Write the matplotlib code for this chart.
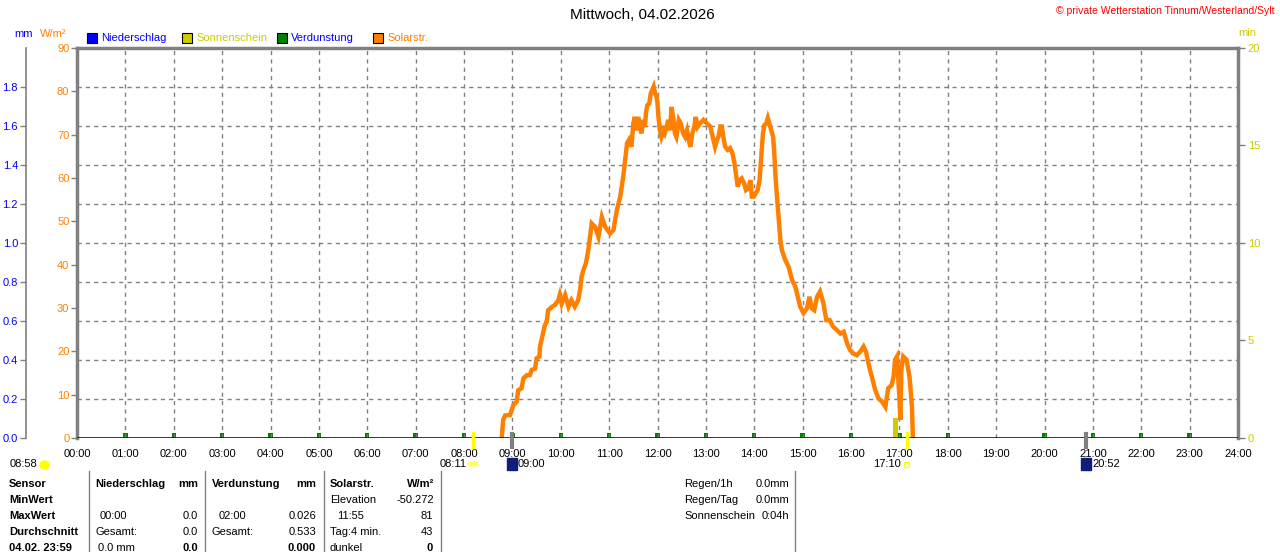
import matplotlib
matplotlib.use("Agg")
import matplotlib.pyplot as plt
from matplotlib.patches import Rectangle, Ellipse, Circle

plt.rcParams['font.family'] = ['Liberation Sans', 'DejaVu Sans']

# ---------------- data ----------------
solar_time = [8.78, 8.81, 8.85, 8.95, 9.02, 9.09, 9.12, 9.19, 9.23, 9.30, 9.36, 9.40, 9.47, 9.50,
              9.56, 9.57, 9.61, 9.67, 9.71, 9.74, 9.81, 9.88, 9.95, 9.98, 10.02, 10.09, 10.16,
              10.22, 10.29, 10.36, 10.40, 10.43, 10.47, 10.52, 10.57, 10.64, 10.71, 10.78, 10.85,
              10.92, 11.02, 11.09, 11.16, 11.23, 11.30,
              11.34, 11.37, 11.41, 11.46, 11.50, 11.53, 11.57, 11.60, 11.63, 11.67, 11.70, 11.74,
              11.76, 11.79, 11.83, 11.86, 11.89, 11.92, 11.95, 11.98, 12.00, 12.02, 12.05, 12.08,
              12.12, 12.15, 12.19, 12.22, 12.26, 12.29, 12.33, 12.36, 12.39, 12.44, 12.48, 12.53,
              12.57, 12.61, 12.66, 12.68, 12.72, 12.76, 12.79, 12.83,
              12.88, 12.95, 13.02, 13.09, 13.14, 13.19, 13.23, 13.26, 13.30, 13.33, 13.37, 13.40,
              13.45, 13.50, 13.55, 13.59, 13.63, 13.66, 13.70, 13.74, 13.79, 13.83, 13.88, 13.92,
              13.95, 13.99, 14.03, 14.07, 14.11, 14.14, 14.18, 14.21, 14.25, 14.28, 14.32, 14.35,
              14.39, 14.41, 14.44, 14.47,
              14.50, 14.54, 14.57, 14.64, 14.71, 14.78,
              14.85, 14.90, 14.95, 15.02, 15.09, 15.14, 15.19, 15.24, 15.30, 15.36, 15.43, 15.49,
              15.56, 15.63, 15.71, 15.78, 15.85, 15.92, 15.98, 16.05, 16.12, 16.19, 16.26, 16.31,
              16.36, 16.43, 16.50, 16.57, 16.64, 16.71, 16.77, 16.84, 16.88, 16.91, 16.95, 16.97,
              17.00, 17.02, 17.04, 17.08, 17.15, 17.21, 17.26, 17.28]
solar_wm2 = [0, 4.2, 5.2, 5.3, 7.6, 8.4, 11, 11.5, 13.8, 14.5, 14.5, 15.7, 16, 18.4,
             18.8, 21, 23, 26, 26.8, 29.5, 30.2, 30.7, 31.8, 33, 31, 33, 30.3,
             31.8, 30.3, 31.8, 34.2, 37.2, 38.8, 40.3, 43.4, 49.5, 48.7, 46.4, 51,
             48.7, 47.2, 48, 52.6, 55.7, 61,
             64.9, 68, 68.8, 67.2, 72.6, 74.1, 71, 74.1, 71.8, 70.3, 73.4, 71.8,
             74.9, 76.8, 77.2, 79.5, 80.3, 81.1, 79.5, 78.8, 77.2, 74.1, 71, 69.5,
             71, 70.3, 71.8, 73.4, 71, 76.4, 73.4, 70.3, 69.5, 73.4, 72.6, 70.3,
             69.5, 71, 68, 67.2, 70.3, 71.8, 74.1, 71.8,
             72.6, 73.4, 72.6, 71.9, 69.5, 67.2, 68.8, 69.5, 71.9, 71.9, 68.8, 67.2,
             66.5, 66.9, 65.7, 63.4, 60.3, 58, 59.5, 59.9, 58.8, 57.2, 57.6, 59.5,
             55.7, 55.7, 56.5, 57.2, 59.5, 64.2, 70.3, 72.2, 72.6, 73.8, 72.2, 71.1,
             69.5, 66.5, 60.3, 55.7,
             51.5, 45.7, 43.4, 41.1, 39.5, 36.5,
             34.9, 32.6, 30.3, 28.8, 29.9, 32.6, 29.9, 29.5, 32.6, 33.8, 31.1, 27.2,
             27.2, 25.7, 24.9, 24.1, 24.5, 21.8, 20.3, 19.5, 19.1, 19.9, 21.1, 19.9,
             17.2, 14.1, 11.1, 9.1, 8.4, 7.2, 11.5, 12.2, 14.1, 18, 18.8, 14.9,
             9.5, 4.2, 15.7, 18.8, 18, 14.1, 7.2, 0]

evap_hours = [1, 2, 3, 4, 5, 6, 7, 8, 9, 10, 11, 12, 13, 14, 15, 16, 17, 18, 20, 21, 22, 23]
evap_mm = [0.024, 0.026, 0.024, 0.024, 0.024, 0.024, 0.024, 0.024, 0.024, 0.024, 0.024,
           0.024, 0.024, 0.024, 0.024, 0.024, 0.024, 0.024, 0.024, 0.024, 0.024, 0.024]

sun_time = [16.915]
sun_min = [1.05]

hour_labels = ['%02d:00' % h for h in range(25)]
wm2_ticks = list(range(0, 91, 10))
mm_ticks = [0.0, 0.2, 0.4, 0.6, 0.8, 1.0, 1.2, 1.4, 1.6, 1.8]
min_ticks = [0, 5, 10, 15, 20]

sunrise, sunset = 8 + 11 / 60, 17 + 10 / 60
moonset, moonrise = 9.0, 20 + 52 / 60

# ---------------- figure ----------------
W, H = 1280, 552
fig = plt.figure(figsize=(12.8, 5.52), dpi=100)
fig.patch.set_facecolor('white')

def P(x, y):
    return (x / W, 1 - y / H)

L, R, T, B = 77, 1238, 48, 438
rect = [L / W, (H - B) / H, (R - L) / W, (B - T) / H]

ax_mm = fig.add_axes(rect)
ax_mm.set_xlim(0, 24)
ax_mm.set_ylim(0, 2.0)
ax_min = ax_mm.twinx()
ax_min.set_ylim(0, 20)
ax_w = ax_mm.twinx()
ax_w.set_ylim(0, 90)
for a, z in ((ax_mm, 1), (ax_min, 2), (ax_w, 3)):
    a.set_zorder(z)
ax_min.patch.set_visible(False)
ax_w.patch.set_visible(False)

GRAY = '#808080'
ORANGE = '#ff8000'
BLUE = '#0000ff'
YEL = '#cccc00'

# mm axis (outer left)
for s in ['top', 'right', 'bottom']:
    ax_mm.spines[s].set_visible(False)
ax_mm.spines['left'].set_position(('outward', 37))
ax_mm.spines['left'].set_color(GRAY)
ax_mm.spines['left'].set_linewidth(1.2)
ax_mm.set_yticks(mm_ticks)
ax_mm.set_yticklabels(['%.1f' % v for v in mm_ticks])
ax_mm.tick_params(axis='y', colors=GRAY, labelcolor=BLUE, labelsize=8, length=4, width=1, pad=1.5)
ax_mm.set_xticks(range(25))
ax_mm.set_xticklabels(hour_labels)
ax_mm.tick_params(axis='x', length=0, labelsize=8, pad=8, labelcolor='black')

# min axis (right)
for s in ['top', 'left', 'bottom', 'right']:
    ax_min.spines[s].set_visible(False)
ax_min.set_yticks(min_ticks)
ax_min.tick_params(axis='y', colors=GRAY, labelcolor=YEL, labelsize=8, length=5, width=1, pad=2)

# W/m2 axis (inner left)
ax_w.yaxis.set_ticks_position('left')
ax_w.yaxis.set_label_position('left')
ax_w.set_yticks(wm2_ticks)
ax_w.tick_params(axis='y', colors=GRAY, labelcolor=ORANGE, labelsize=8, length=4, width=1, pad=1.5)
for s in ['left', 'top', 'right']:
    ax_w.spines[s].set_color(GRAY)
    ax_w.spines[s].set_linewidth(2.5)
ax_w.spines['bottom'].set_visible(False)

# grid
for h in range(1, 24):
    ax_w.axvline(h, color=GRAY, lw=1, ls=(0, (3, 3)), zorder=0)
for v in mm_ticks[1:]:
    ax_w.axhline(v * 45, color=GRAY, lw=1, ls=(0, (3, 3)), zorder=0)

# bars
ax_mm.bar(evap_hours, evap_mm, width=0.09, color='#008000', zorder=2)
ax_min.bar(sun_time, sun_min, width=0.11, color=YEL, zorder=2)

# solar line
ax_w.plot(solar_time, solar_wm2, color=ORANGE, lw=3.2, zorder=5, solid_joinstyle='miter')
ax_w.axhline(0, color='#1010b0', lw=2, zorder=6)

# sun/moon event ticks below axis
xt = ax_w.get_xaxis_transform()
for x in (sunrise, sunset):
    ax_w.plot([x, x], [0.012, -0.023], color='#ffff00', lw=2.5, transform=xt, clip_on=False, zorder=7)
for x in (moonset, moonrise):
    ax_w.plot([x, x], [0.01, -0.023], color=GRAY, lw=3, transform=xt, clip_on=False, zorder=7)

# ---------------- texts ----------------
fig.text(*P(642, 15), 'Mittwoch, 04.02.2026', ha='center', va='center', fontsize=11)
fig.text(*P(1275, 11), '© private Wetterstation Tinnum/Westerland/Sylt', ha='right', va='center',
         fontsize=7.5, color='#ff0000')
fig.text(*P(14, 34), 'mm', ha='left', va='center', fontsize=8, color=BLUE)
fig.text(*P(40, 34), 'W/m²', ha='left', va='center', fontsize=8, color=ORANGE)
fig.text(*P(1238, 33), 'min', ha='left', va='center', fontsize=8, color=YEL)

legend = [(87, '#0000ff', 'Niederschlag', BLUE),
          (182, YEL, 'Sonnenschein', YEL),
          (277, '#008000', 'Verdunstung', BLUE),
          (373, ORANGE, 'Solarstr.', ORANGE)]
for x, fc, txt, tc in legend:
    fig.patches.append(Rectangle((x / W, 1 - 43 / H), 10 / W, 10 / H, transform=fig.transFigure,
                                 facecolor=fc, edgecolor='black', lw=0.8))
    fig.text(*P(x + 14, 38), txt, ha='left', va='center', fontsize=8, color=tc)

# bottom annotations
fig.text(*P(10, 464), '08:58', ha='left', va='center', fontsize=8)
fig.patches.append(Ellipse(P(44.5, 465), 9 / W, 8 / H, transform=fig.transFigure, color='#ffff00'))
fig.text(*P(467, 464), '08:11', ha='right', va='center', fontsize=8)
fig.patches.append(Circle(P(473, 464), 5 / W, transform=fig.transFigure, color='#ffff60'))
fig.patches.append(Rectangle(P(507, 470), 10 / W, 12 / H, transform=fig.transFigure, color='#101e7a'))
fig.text(*P(518, 464), '09:00', ha='left', va='center', fontsize=8)
fig.text(*P(901, 464), '17:10', ha='right', va='center', fontsize=8)
fig.patches.append(Rectangle(P(904, 467), 5 / W, 5 / H, transform=fig.transFigure,
                             facecolor='none', edgecolor='#ffff00', lw=1))
fig.patches.append(Rectangle(P(1081, 470), 10 / W, 12 / H, transform=fig.transFigure, color='#101e7a'))
fig.text(*P(1092, 464), '20:52', ha='left', va='center', fontsize=8)

# table
for x in (88.5, 205, 323.5, 440.5, 795):
    fig.add_artist(plt.Line2D([x / W, x / W], [1 - 471 / H, 0], transform=fig.transFigure,
                              color=GRAY, lw=1))
rows = [484, 500, 516, 532, 548]
for y, t in zip(rows, ['Sensor', 'MinWert', 'MaxWert', 'Durchschnitt', '04.02. 23:59']):
    fig.text(*P(9, y), t, ha='left', va='center', fontsize=8, fontweight='bold')

cells = [
    (95, 484, 'Niederschlag', 'left', True), (198, 484, 'mm', 'right', True),
    (100, 516, '00:00', 'left', False), (198, 516, '0.0', 'right', False),
    (95, 532, 'Gesamt:', 'left', False), (198, 532, '0.0', 'right', False),
    (98, 548, '0.0 mm', 'left', False), (198, 548, '0.0', 'right', True),
    (212, 484, 'Verdunstung', 'left', True), (316, 484, 'mm', 'right', True),
    (219, 516, '02:00', 'left', False), (316, 516, '0.026', 'right', False),
    (212, 532, 'Gesamt:', 'left', False), (316, 532, '0.533', 'right', False),
    (316, 548, '0.000', 'right', True),
    (330, 484, 'Solarstr.', 'left', True), (434, 484, 'W/m²', 'right', True),
    (330, 500, 'Elevation', 'left', False), (434, 500, '-50.272', 'right', False),
    (337, 516, '11:55', 'left', False), (433, 516, '81', 'right', False),
    (330, 532, 'Tag:4 min.', 'left', False), (433, 532, '43', 'right', False),
    (330, 548, 'dunkel', 'left', False), (433, 548, '0', 'right', True),
    (684, 484, 'Regen/1h', 'left', False), (789, 484, '0.0mm', 'right', False),
    (684, 500, 'Regen/Tag', 'left', False), (789, 500, '0.0mm', 'right', False),
    (684, 516, 'Sonnenschein', 'left', False), (789, 516, '0:04h', 'right', False),
]
for x, y, t, ha, bold in cells:
    fig.text(*P(x, y), t, ha=ha, va='center', fontsize=8, fontweight='bold' if bold else 'normal')

fig.savefig('out.png', dpi=100)
